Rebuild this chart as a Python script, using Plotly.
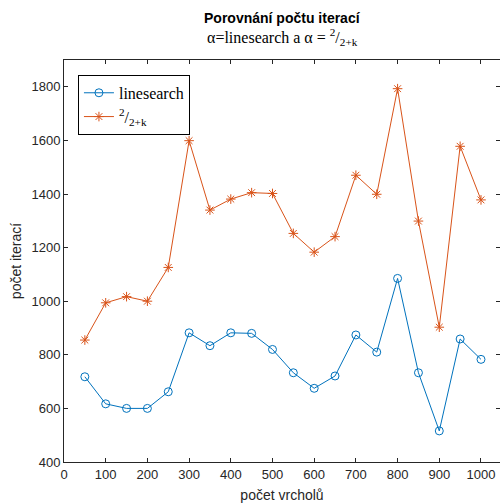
import plotly.graph_objects as go

vrcholy = [50, 100, 150, 200, 250, 300, 350, 400, 450, 500, 550, 600, 650, 700, 750, 800, 850, 900, 950, 1000]
linesearch = [718, 617, 600, 600, 662, 882, 834, 882, 880, 820, 733, 675, 721, 874, 810, 1085, 733, 516, 859, 783]
frac = [855, 994, 1017, 1000, 1126, 1599, 1340, 1381, 1405, 1402, 1253, 1183, 1241, 1470, 1399, 1793, 1299, 903, 1578, 1378]
x_ticks = list(range(0, 1001, 100))
y_ticks = list(range(400, 1801, 200))

BLUE = "#0072BD"
ORANGE = "#D95319"
AX = "#262626"

fig = go.Figure()
fig.add_trace(go.Scatter(
    x=vrcholy, y=linesearch, mode="lines+markers", name="linesearch",
    line=dict(color=BLUE, width=1),
    marker=dict(symbol="circle-open", size=8, color=BLUE, line=dict(width=1, color=BLUE)),
))
fig.add_trace(go.Scatter(
    x=vrcholy, y=frac, mode="lines+markers", name="<sup>2</sup>/<sub>2+k</sub>",
    line=dict(color=ORANGE, width=1),
    marker=dict(symbol="asterisk-open", size=8, color=ORANGE, line=dict(width=1, color=ORANGE)),
))

axis_common = dict(
    showline=True, linecolor=AX, linewidth=1, mirror="ticks",
    ticks="inside", ticklen=4, tickcolor=AX, tickwidth=1,
    showgrid=False, zeroline=False, automargin=False,
    tickfont=dict(family="Liberation Sans, Arial", size=13, color=AX),
)

fig.update_layout(
    width=500, height=503,
    margin=dict(l=64, r=0, t=60, b=41),
    paper_bgcolor="white", plot_bgcolor="white",
    showlegend=True,
    legend=dict(
        x=0.032, y=0.963, xanchor="left", yanchor="top",
        bgcolor="white", bordercolor="black", borderwidth=1,
        font=dict(family="Liberation Serif, DejaVu Serif", size=16, color="black"),
        tracegroupgap=0,
    ),
    xaxis=dict(range=[0, 1045.6], tickvals=x_ticks,
               title=dict(text="počet vrcholů", standoff=10,
                          font=dict(family="Liberation Sans, Arial", size=14, color=AX)),
               **axis_common),
    yaxis=dict(range=[400, 1900], tickvals=y_ticks,
               title=dict(text="počet iterací", standoff=6,
                          font=dict(family="Liberation Sans, Arial", size=14, color=AX)),
               **axis_common),
    annotations=[
        dict(text="<b>Porovnání počtu iterací</b>", xref="paper", yref="paper",
             x=0.5, y=1, yshift=42, xanchor="center", yanchor="middle", showarrow=False,
             font=dict(family="Liberation Sans, Arial", size=14, color="black")),
        dict(text="α=linesearch a α = <sup>2</sup>/<sub>2+k</sub>", xref="paper", yref="paper",
             x=0.5, y=1, yshift=23, xanchor="center", yanchor="middle", showarrow=False,
             font=dict(family="Liberation Serif, DejaVu Serif", size=16, color="black")),
    ],
)

fig.write_html("out.html", config={"displayModeBar": False},
               post_script="document.body.style.margin='0';document.body.style.overflow='hidden';")
